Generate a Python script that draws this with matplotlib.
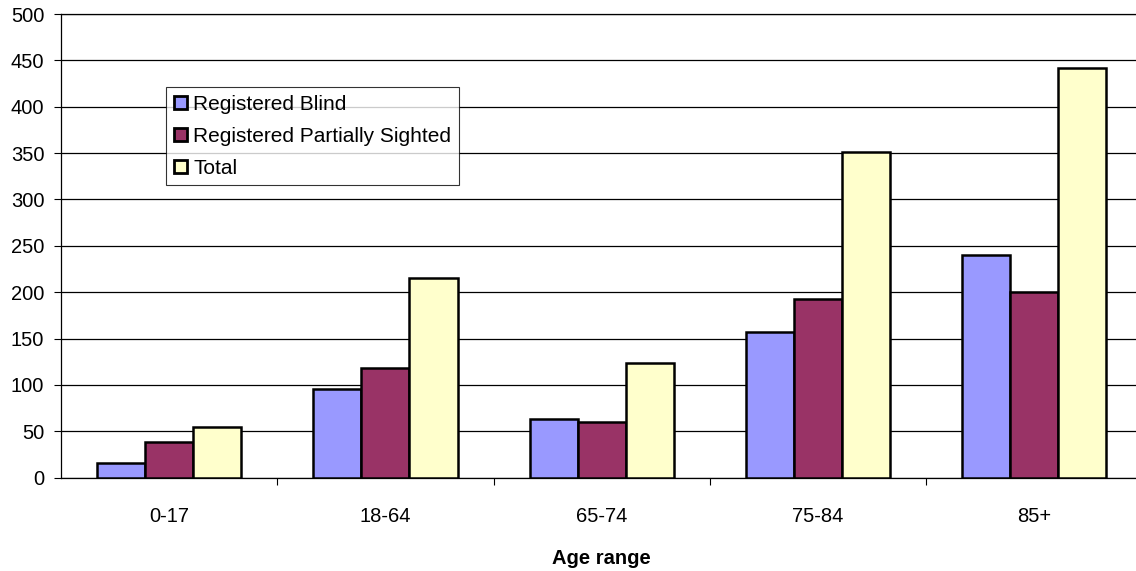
import numpy as np
import matplotlib.pyplot as plt

plt.rcParams['font.family'] = ['Liberation Sans', 'DejaVu Sans']

age_ranges = ['0-17', '18-64', '65-74', '75-84', '85+']
blind = [16, 96, 63, 157, 240]
partially_sighted = [38, 118, 60, 193, 200]
total = [55, 215, 124, 351, 442]

series = [
    ('Registered Blind', blind, '#9999FF'),
    ('Registered Partially Sighted', partially_sighted, '#993366'),
    ('Total', total, '#FFFFCC'),
]

fig = plt.figure(figsize=(11.36, 5.71), dpi=100)
ax = fig.add_axes([61 / 1136, 1 - 477.7 / 571, 1081.5 / 1136, 463.7 / 571])

x = np.arange(len(age_ranges))
width = 1 / 4.5
for i, (name, vals, color) in enumerate(series):
    ax.bar(x + (i - 1) * width, vals, width, color=color, edgecolor='black',
           linewidth=1.8, label=name, zorder=3)

ax.set_xlim(-0.5, len(age_ranges) - 0.5)
ax.set_ylim(0, 500)
ax.set_yticks(np.arange(0, 501, 50))
ax.yaxis.grid(True, color='black', linewidth=0.9, zorder=0)
ax.set_axisbelow(True)

# category labels at the centres, ticks on the boundaries
ax.set_xticks(x)
ax.set_xticklabels(age_ranges, fontsize=14.5)
ax.set_xticks(np.arange(0.5, len(age_ranges) - 0.5), minor=True)
ax.tick_params(axis='x', which='major', length=0, pad=21)
ax.tick_params(axis='x', which='minor', length=5, width=0.8, direction='out')
ax.tick_params(axis='y', labelsize=14.5, length=5, width=0.8, pad=7)

ax.spines['right'].set_visible(False)
for side in ('left', 'bottom', 'top'):
    ax.spines[side].set_linewidth(0.9)

ax.set_xlabel('Age range', fontsize=14.5, fontweight='bold', labelpad=17)

leg = ax.legend(loc='upper left', bbox_to_anchor=(0.0975, 0.843),
                borderaxespad=0, fontsize=15, frameon=True, fancybox=False,
                handlelength=0.6, handleheight=0.6, handletextpad=0.3,
                labelspacing=0.62, borderpad=0.38)
leg.get_frame().set_edgecolor('black')
leg.get_frame().set_linewidth(0.8)
for h in leg.legend_handles:
    h.set_linewidth(2)

fig.savefig('out.png', dpi=100)
